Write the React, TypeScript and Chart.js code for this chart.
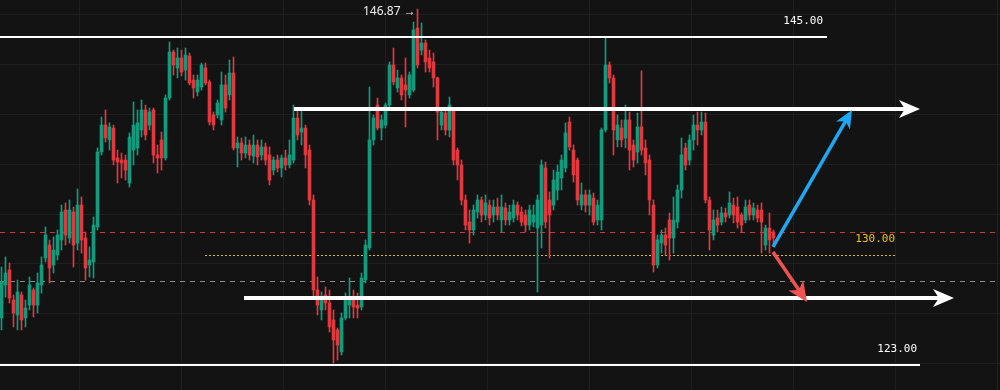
import React, { useEffect, useRef } from 'react';
import { Chart, registerables } from 'chart.js';

Chart.register(...registerables);

// ---- candle data (price) ----
const openPrices = [
  126.14, 128.36, 129.36, 127.35, 126.34, 127.69, 126.14, 127.01, 128.02, 127.01,
  128.36, 130.17, 131.04, 129.70, 130.37, 131.38, 133.39, 131.51, 133.25, 131.17,
  133.72, 131.51, 129.70, 129.90, 132.25, 137.28, 139.09, 138.09, 138.89, 136.88,
  136.74, 136.74, 135.20, 137.41, 137.55, 138.76, 140.10, 139.09, 140.10, 137.08,
  138.09, 136.88, 140.90, 143.99, 142.92, 143.59, 142.78, 143.72, 142.11, 141.31,
  141.64, 142.92, 141.98, 139.76, 139.76, 139.43, 141.78, 141.11, 142.58, 137.55,
  137.88, 137.21, 137.75, 137.01, 137.75, 137.08, 137.62, 137.08, 136.07, 136.74,
  136.21, 136.88, 136.41, 136.74, 139.56, 138.62, 138.89, 137.41, 134.06, 128.02,
  126.68, 127.69, 127.15, 126.01, 125.34, 123.86, 126.14, 127.01, 127.35, 127.01,
  126.88, 128.69, 130.84, 138.09, 140.43, 138.89, 139.09, 140.43, 143.12, 141.58,
  142.25, 141.78, 141.11, 141.44, 145.60, 144.12, 144.59, 143.59, 143.32, 142.25,
  139.09, 139.90, 138.76, 140.10, 137.41, 136.41, 134.06, 132.58, 132.05, 133.25,
  134.06, 133.05, 133.72, 133.05, 133.59, 132.72, 133.52, 132.72, 132.85, 133.72,
  133.25, 133.05, 132.38, 132.58, 132.18, 132.38, 136.21, 134.06, 133.72, 134.73,
  135.54, 136.21, 139.29, 137.41, 136.74, 133.72, 134.40, 133.72, 134.19, 132.72,
  132.72, 138.76, 143.12, 142.25, 138.09, 138.89, 138.22, 139.43, 137.75, 137.28,
  138.96, 137.55, 136.74, 133.72, 129.70, 131.17, 131.71, 132.72, 131.51, 132.58,
  134.73, 137.55, 136.74, 138.09, 139.09, 138.76, 139.29, 134.06, 131.71, 132.85,
  132.58, 133.19, 133.05, 133.72, 133.59, 133.05, 132.72, 133.72, 133.05, 133.39,
  133.39, 131.04, 132.18, 131.91,
];

const highPrices = [
  129.56, 130.24, 129.83, 127.69, 128.69, 127.89, 127.35, 128.89, 128.16, 129.16,
  130.24, 132.25, 131.38, 131.58, 132.05, 133.72, 133.86, 134.06, 133.59, 134.80,
  134.26, 131.91, 130.91, 132.92, 137.55, 139.63, 140.10, 139.23, 139.09, 137.41,
  137.21, 137.08, 138.56, 140.64, 140.10, 140.77, 140.43, 140.23, 140.23, 137.75,
  138.62, 141.11, 144.66, 144.12, 144.26, 144.12, 144.26, 143.92, 142.45, 142.45,
  143.25, 143.25, 142.11, 139.96, 140.77, 142.65, 142.45, 143.45, 143.66, 138.29,
  138.22, 138.29, 138.09, 138.42, 138.09, 138.09, 137.88, 137.62, 136.95, 137.08,
  137.08, 137.41, 138.09, 140.43, 140.10, 140.23, 139.09, 137.75, 134.40, 128.89,
  127.89, 128.22, 128.02, 126.68, 125.47, 126.48, 127.82, 128.83, 128.02, 127.82,
  129.16, 131.38, 141.64, 139.76, 140.90, 139.76, 140.57, 143.32, 144.26, 142.78,
  142.45, 143.59, 142.65, 146.00, 146.87, 145.94, 144.80, 144.12, 143.92, 142.31,
  140.23, 140.10, 140.97, 140.23, 137.55, 136.74, 134.40, 133.39, 133.72, 134.40,
  134.26, 134.40, 134.06, 134.06, 134.19, 134.40, 133.86, 133.72, 134.06, 133.93,
  133.59, 133.39, 133.72, 133.72, 134.40, 136.74, 136.61, 134.60, 136.07, 136.41,
  137.08, 139.23, 139.63, 137.75, 136.88, 135.20, 134.73, 134.73, 134.53, 134.06,
  138.89, 144.93, 143.32, 142.45, 139.76, 139.43, 140.43, 139.96, 138.09, 139.90,
  142.72, 138.09, 137.08, 134.06, 131.71, 132.05, 132.18, 133.19, 134.26, 135.07,
  138.22, 137.88, 138.42, 139.76, 139.96, 139.96, 139.90, 134.26, 133.39, 133.39,
  133.59, 133.52, 134.60, 134.19, 134.26, 133.19, 134.06, 134.06, 133.86, 133.72,
  133.86, 132.38, 133.19, 132.05,
];

const lowPrices = [
  125.34, 127.55, 127.15, 125.54, 125.34, 125.34, 125.54, 126.68, 126.21, 126.48,
  127.82, 129.90, 128.49, 129.16, 130.03, 130.70, 131.04, 131.17, 129.56, 130.70,
  130.50, 128.69, 128.89, 128.83, 132.05, 137.08, 137.95, 137.41, 136.41, 135.20,
  135.54, 135.40, 134.93, 136.41, 137.08, 138.29, 138.09, 138.76, 136.54, 135.87,
  136.07, 136.74, 140.77, 142.45, 142.25, 142.38, 142.11, 141.78, 140.90, 141.04,
  141.44, 141.78, 139.09, 138.76, 139.56, 139.09, 139.96, 140.77, 137.41, 136.27,
  136.74, 136.88, 136.74, 136.54, 136.41, 136.74, 136.41, 135.07, 135.74, 135.94,
  135.60, 136.07, 136.21, 136.54, 138.09, 137.75, 136.21, 133.72, 127.48, 126.34,
  126.01, 126.68, 125.20, 123.12, 123.32, 123.66, 126.01, 126.14, 126.14, 126.14,
  126.68, 128.49, 130.70, 137.75, 138.76, 138.09, 138.89, 140.23, 141.78, 141.31,
  140.77, 138.96, 140.90, 141.31, 142.92, 143.79, 142.65, 142.65, 141.64, 138.09,
  138.76, 138.42, 138.29, 136.41, 135.40, 133.72, 132.05, 131.17, 131.71, 132.85,
  132.58, 132.72, 132.38, 132.58, 132.72, 131.91, 132.38, 132.38, 132.58, 132.72,
  132.32, 131.91, 132.05, 132.25, 127.89, 130.84, 132.18, 130.17, 133.39, 134.06,
  134.73, 135.94, 137.41, 135.27, 133.72, 133.39, 133.25, 133.05, 132.38, 132.38,
  132.05, 138.62, 141.91, 137.08, 137.62, 137.62, 137.55, 136.07, 136.27, 136.54,
  137.08, 135.74, 133.05, 129.23, 129.50, 130.50, 130.37, 130.03, 130.50, 132.18,
  134.19, 136.07, 136.41, 137.41, 137.75, 138.42, 133.86, 130.70, 131.38, 131.91,
  132.38, 132.58, 132.85, 132.52, 132.18, 131.91, 132.52, 132.72, 132.72, 132.58,
  130.50, 130.70, 130.50, 131.04,
];

const closePrices = [
  128.56, 129.16, 127.48, 126.48, 127.89, 126.01, 126.81, 128.36, 127.01, 128.49,
  129.70, 131.71, 129.50, 130.70, 131.71, 133.25, 131.71, 133.39, 131.04, 133.72,
  131.38, 129.50, 130.03, 132.38, 137.28, 139.09, 138.22, 138.96, 136.74, 136.61,
  136.54, 136.07, 138.29, 139.09, 139.23, 140.10, 138.42, 139.96, 137.08, 136.88,
  136.88, 140.90, 143.99, 143.12, 143.59, 142.65, 143.79, 141.91, 141.58, 142.11,
  143.12, 141.91, 139.29, 139.09, 140.57, 141.78, 140.23, 142.58, 137.55, 137.88,
  137.21, 137.75, 137.08, 137.75, 136.95, 137.62, 136.74, 135.40, 136.74, 136.21,
  136.88, 136.41, 137.08, 139.56, 138.42, 138.89, 137.08, 134.06, 128.02, 127.01,
  127.48, 127.15, 125.54, 124.67, 124.33, 126.14, 127.35, 127.35, 126.88, 126.81,
  128.83, 131.04, 138.09, 139.56, 138.89, 139.43, 140.43, 143.12, 141.98, 142.25,
  141.11, 141.44, 142.45, 145.47, 143.12, 144.59, 143.32, 142.92, 142.25, 139.96,
  139.96, 138.76, 140.43, 136.74, 136.41, 134.06, 132.38, 132.05, 133.39, 134.06,
  133.05, 133.86, 132.85, 133.59, 133.05, 133.59, 132.72, 133.25, 133.72, 133.05,
  132.58, 132.38, 133.39, 133.05, 134.06, 136.41, 132.58, 133.05, 135.40, 135.94,
  136.74, 138.56, 137.62, 135.74, 134.06, 134.40, 133.72, 134.40, 132.58, 133.72,
  138.76, 143.12, 142.25, 138.76, 139.09, 138.09, 139.43, 137.41, 136.74, 138.96,
  137.41, 136.54, 134.06, 129.70, 131.38, 131.71, 131.04, 131.51, 132.72, 134.73,
  137.08, 136.41, 138.09, 139.09, 138.76, 139.29, 134.06, 132.05, 132.72, 132.38,
  133.19, 132.92, 133.86, 133.05, 132.58, 132.38, 133.59, 133.05, 133.52, 132.85,
  132.58, 132.18, 131.38, 131.51,
];

// ---- horizontal levels (price) ----
const resistanceLevel = 145.0;
const supportLevel = 123.0;
const redDashedLevel = 131.91;
const grayDashedLevel = 128.6;
const yellowDottedLevel = 130.37;

// ---- labels ----
const labelTop = '145.00';
const labelBottom = '123.00';
const labelMid = '130.00';
const labelHigh = '146.87 →';

// ---- drawing annotations in data coordinates [candleIndex, price] ----
const upperArrow = [[73.125, 140.17], [229.625, 140.17]];
const lowerArrow = [[60.625, 127.48], [238.125, 127.48]];
const blueArrow = [[192.875, 130.91], [212.625, 140.1]];
const redArrow = [[192.875, 130.57], [201.375, 127.22]];
const resistanceEnd = 206.375;
const supportEnd = 229.625;
const yellowSpan = [50.875, 223.625];
const labelTopPos = [205.375, 146.05];
const labelBottomPos = [228.875, 124.07];
const labelMidPos = [223.375, 131.44];
const labelHighPos = [90.375, 146.72];

// ---- view ----
const xMin = -0.375;
const xMax = 249.625;
const yMin = 121.31;
const yMax = 147.48;
const xGridStart = 6.625;
const xGridStep = 25.5;
const yGridStart = 146.54;
const yGridStep = 3.355;

const UP = '#129b7e';
const DOWN = '#e0393e';

const bgPlugin = {
  id: 'bg',
  beforeDraw(chart: any) {
    const { ctx, width, height } = chart;
    ctx.save();
    ctx.fillStyle = '#131313';
    ctx.fillRect(0, 0, width, height);
    ctx.restore();
  },
};

function drawArrow(ctx: any, x1: number, y1: number, x2: number, y2: number, color: string, width: number, headLen: number, headHalf: number) {
  const ang = Math.atan2(y2 - y1, x2 - x1);
  const cos = Math.cos(ang);
  const sin = Math.sin(ang);
  const pt = (along: number, across: number) => [x2 - cos * along - sin * across, y2 - sin * along + cos * across];
  const base = pt(headLen * 0.7, 0);
  ctx.strokeStyle = color;
  ctx.lineWidth = width;
  ctx.lineCap = 'butt';
  ctx.setLineDash([]);
  ctx.beginPath();
  ctx.moveTo(x1, y1);
  ctx.lineTo(base[0], base[1]);
  ctx.stroke();
  const a = pt(0, 0);
  const b = pt(headLen, -headHalf);
  const c = pt(headLen * 0.72, 0);
  const d = pt(headLen, headHalf);
  ctx.fillStyle = color;
  ctx.beginPath();
  ctx.moveTo(a[0], a[1]);
  ctx.lineTo(b[0], b[1]);
  ctx.lineTo(c[0], c[1]);
  ctx.lineTo(d[0], d[1]);
  ctx.closePath();
  ctx.fill();
}

const levelsPlugin = {
  id: 'levels',
  beforeDatasetsDraw(chart: any) {
    const { ctx, scales } = chart;
    const x = scales.x;
    const y = scales.y;
    ctx.save();
    ctx.lineWidth = 1;
    // red dashed
    ctx.strokeStyle = '#c93a3a';
    ctx.setLineDash([5, 5]);
    let py = Math.round(y.getPixelForValue(redDashedLevel)) + 0.5;
    ctx.beginPath();
    ctx.moveTo(0, py);
    ctx.lineTo(chart.width, py);
    ctx.stroke();
    // gray dashed
    ctx.strokeStyle = '#8a8a8a';
    ctx.setLineDash([5, 5]);
    py = Math.round(y.getPixelForValue(grayDashedLevel)) + 0.5;
    ctx.beginPath();
    ctx.moveTo(0, py);
    ctx.lineTo(chart.width, py);
    ctx.stroke();
    // yellow dotted
    ctx.strokeStyle = '#d8bf1c';
    ctx.setLineDash([2, 2]);
    py = Math.round(y.getPixelForValue(yellowDottedLevel)) + 0.5;
    ctx.beginPath();
    ctx.moveTo(x.getPixelForValue(yellowSpan[0]), py);
    ctx.lineTo(x.getPixelForValue(yellowSpan[1]), py);
    ctx.stroke();
    ctx.restore();
  },
  afterDatasetsDraw(chart: any) {
    const { ctx, scales } = chart;
    const x = scales.x;
    const y = scales.y;
    const P = (p: number[]) => [x.getPixelForValue(p[0]), y.getPixelForValue(p[1])];
    ctx.save();
    ctx.setLineDash([]);
    // resistance / support solid lines
    ctx.strokeStyle = '#ffffff';
    ctx.lineWidth = 2;
    let py = Math.round(y.getPixelForValue(resistanceLevel));
    ctx.beginPath();
    ctx.moveTo(0, py);
    ctx.lineTo(x.getPixelForValue(resistanceEnd), py);
    ctx.stroke();
    py = Math.round(y.getPixelForValue(supportLevel));
    ctx.beginPath();
    ctx.moveTo(0, py);
    ctx.lineTo(x.getPixelForValue(supportEnd), py);
    ctx.stroke();

    // arrows
    let s = P(upperArrow[0]);
    let e = P(upperArrow[1]);
    drawArrow(ctx, s[0], s[1], e[0], e[1], '#ffffff', 4, 21, 9);
    s = P(lowerArrow[0]);
    e = P(lowerArrow[1]);
    drawArrow(ctx, s[0], s[1], e[0], e[1], '#ffffff', 4, 21, 9);
    s = P(blueArrow[0]);
    e = P(blueArrow[1]);
    drawArrow(ctx, s[0], s[1], e[0], e[1], '#1ea8f2', 3.5, 18, 8);
    s = P(redArrow[0]);
    e = P(redArrow[1]);
    drawArrow(ctx, s[0], s[1], e[0], e[1], '#f05252', 3.5, 20, 9);

    // labels
    ctx.textBaseline = 'middle';
    ctx.font = '11px "DejaVu Sans Mono", monospace';
    ctx.textAlign = 'right';
    ctx.fillStyle = '#ffffff';
    let lp = P(labelTopPos);
    ctx.fillText(labelTop, lp[0], lp[1]);
    lp = P(labelBottomPos);
    ctx.fillText(labelBottom, lp[0], lp[1]);
    ctx.fillStyle = '#e8c21a';
    lp = P(labelMidPos);
    ctx.fillText(labelMid, lp[0], lp[1]);
    ctx.font = '12px "Noto Sans", sans-serif';
    ctx.textAlign = 'left';
    ctx.fillStyle = '#eeeeee';
    lp = P(labelHighPos);
    ctx.fillText(labelHigh, lp[0], lp[1]);
    ctx.restore();
  },
};

export default function App() {
  const canvasRef = useRef<HTMLCanvasElement | null>(null);

  useEffect(() => {
    document.body.style.margin = '0';
    document.body.style.background = '#131313';
    const canvas = canvasRef.current;
    if (!canvas) return;
    const colors = openPrices.map((o, i) => (closePrices[i] >= o ? UP : DOWN));
    const wickData = lowPrices.map((l, i) => ({ x: i, y: [l, highPrices[i]] }));
    const bodyData = openPrices.map((o, i) => ({ x: i, y: [o, closePrices[i]] }));

    const chart = new Chart(canvas, {
      type: 'bar',
      data: {
        datasets: [
          {
            label: 'wick',
            data: wickData as any,
            backgroundColor: colors,
            barThickness: 1,
            grouped: false,
            borderWidth: 0,
          } as any,
          {
            label: 'body',
            data: bodyData as any,
            backgroundColor: colors,
            barThickness: 3,
            minBarLength: 1,
            grouped: false,
            borderWidth: 0,
          } as any,
        ],
      },
      options: {
        animation: false,
        responsive: true,
        maintainAspectRatio: false,
        events: [],
        layout: { padding: 0 },
        plugins: { legend: { display: false }, tooltip: { enabled: false } },
        scales: {
          x: {
            type: 'linear',
            min: xMin,
            max: xMax,
            offset: false,
            border: { display: false },
            grid: { color: '#1f1f1f', lineWidth: 1, drawTicks: false, tickLength: 0 },
            ticks: { display: false },
            afterBuildTicks: (scale: any) => {
              const t = [];
              for (let v = xGridStart; v <= xMax; v += xGridStep) t.push({ value: v });
              scale.ticks = t;
            },
            afterFit: (scale: any) => {
              scale.height = 0;
            },
          },
          y: {
            type: 'linear',
            min: yMin,
            max: yMax,
            border: { display: false },
            grid: { color: '#1f1f1f', lineWidth: 1, drawTicks: false, tickLength: 0 },
            ticks: { display: false },
            afterBuildTicks: (scale: any) => {
              const t = [];
              for (let v = yGridStart; v >= yMin; v -= yGridStep) t.push({ value: v });
              scale.ticks = t;
            },
            afterFit: (scale: any) => {
              scale.width = 0;
            },
          },
        },
      } as any,
      plugins: [bgPlugin, levelsPlugin],
    });
    return () => chart.destroy();
  }, []);

  return (
    <div style={{ position: 'fixed', left: 0, top: 0, width: 1000, height: 390, background: '#131313' }}>
      <canvas ref={canvasRef} />
    </div>
  );
}
